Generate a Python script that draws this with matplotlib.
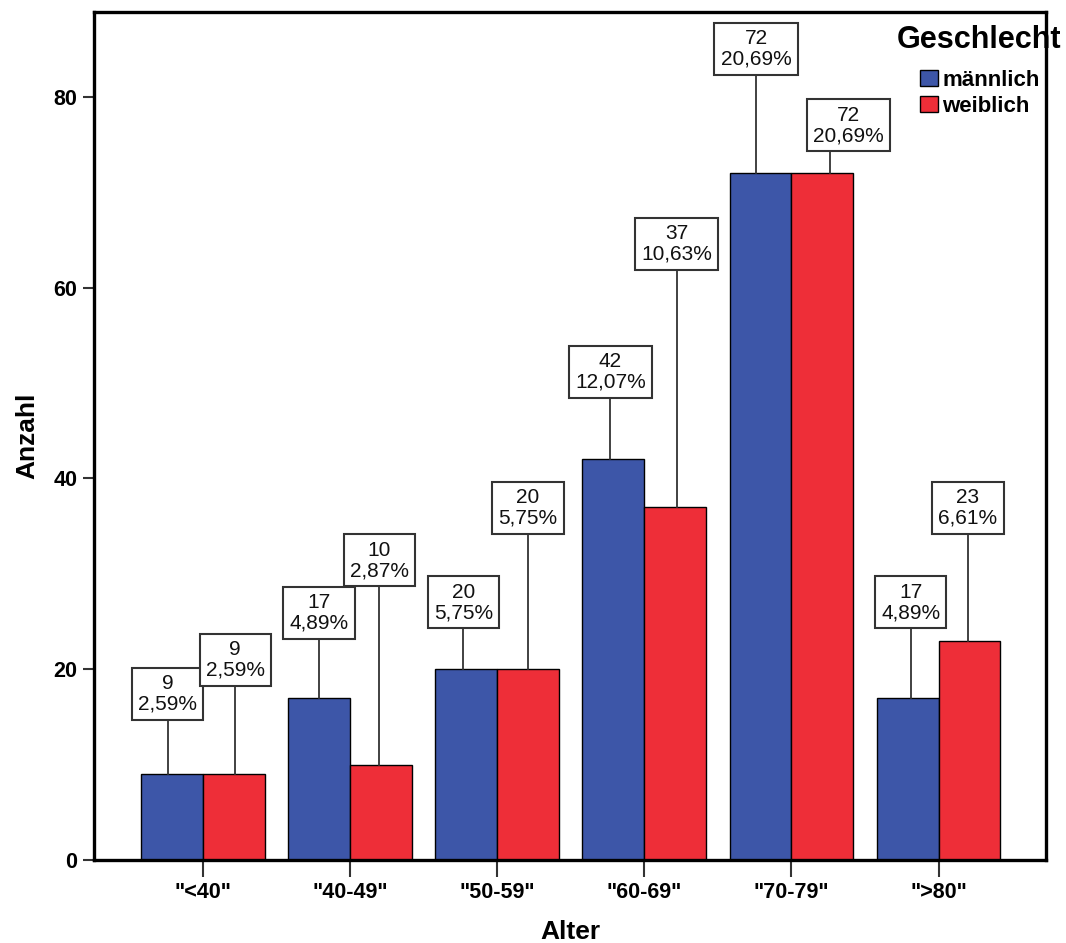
import matplotlib
matplotlib.use("Agg")
import matplotlib.pyplot as plt
import numpy as np

# Data
categories = ['"<40"', '"40-49"', '"50-59"', '"60-69"', '"70-79"', '">80"']
maennlich = [9, 17, 20, 42, 72, 17]
weiblich = [9, 10, 20, 37, 72, 23]
pct_maennlich = ["2,59%", "4,89%", "5,75%", "12,07%", "20,69%", "4,89%"]
pct_weiblich = ["2,59%", "2,87%", "5,75%", "10,63%", "20,69%", "6,61%"]

# Label box placement (box centre heights and small x shifts)
lab_y_m = [17.4, 25.9, 27.0, 51.2, 85.0, 27.0]
lab_y_w = [21.0, 31.4, 36.9, 64.6, 77.0, 36.9]
lab_dx_m = [-0.03, 0.0, -0.02, -0.02, -0.03, 0.02]
lab_dx_w = [0.01, -0.01, 0.0, 0.01, 0.18, -0.01]
line_dx_w = [0.01, -0.01, 0.0, 0.01, 0.05, -0.01]

BLUE = "#3d56a8"
RED = "#ee2e38"

plt.rcParams["font.family"] = ["Liberation Sans", "DejaVu Sans"]

fig = plt.figure(figsize=(10.66, 9.43), dpi=100)
ax = fig.add_axes([0.0882, 0.088, 0.8930, 0.8993])

x = np.arange(len(categories))
w = 0.42
ax.bar(x - w / 2, maennlich, w, color=BLUE, edgecolor="black", linewidth=1, label="männlich", zorder=2)
ax.bar(x + w / 2, weiblich, w, color=RED, edgecolor="black", linewidth=1, label="weiblich", zorder=2)

box = dict(boxstyle="square,pad=0.3", facecolor="white", edgecolor="#333333", linewidth=1.5)

def add_label(xc, val, pct, ly, dx, ldx):
    ax.plot([xc + ldx, xc + ldx], [val, ly], color="#333333", linewidth=1.3, zorder=3)
    ax.text(xc + dx, ly, "%d\n%s" % (val, pct), ha="center", va="center", fontsize=15,
            linespacing=1.1, bbox=box, zorder=4, color="#111111")

for i in range(len(categories)):
    add_label(x[i] - w / 2, maennlich[i], pct_maennlich[i], lab_y_m[i], lab_dx_m[i], lab_dx_m[i])
    add_label(x[i] + w / 2, weiblich[i], pct_weiblich[i], lab_y_w[i], lab_dx_w[i], line_dx_w[i])

ax.set_xlim(-0.74, 5.73)
ax.set_ylim(0, 88.9)
ax.set_xticks(x)
ax.set_xticklabels(categories, fontsize=15.5, fontweight="bold")
ax.set_yticks([0, 20, 40, 60, 80])
ax.set_yticklabels(["0", "20", "40", "60", "80"], fontsize=15.5, fontweight="bold")
ax.tick_params(axis="y", length=8, width=1.5, pad=4, color="#333333")
ax.tick_params(axis="x", length=12, width=1.5, pad=4, color="#333333")

for s in ax.spines.values():
    s.set_linewidth(2.4)
    s.set_color("black")
    s.set_zorder(5)

ax.set_xlabel("Alter", fontsize=19, fontweight="bold", labelpad=12)
ax.set_ylabel("Anzahl", fontsize=19, fontweight="bold", labelpad=10)

# legend: title drawn on its own so the gap to the entries matches
ax.text(0.9296, 0.967, "Geschlecht", transform=ax.transAxes, ha="center", va="center",
        fontsize=22, fontweight="bold", zorder=1)
leg = ax.legend(loc="upper left", bbox_to_anchor=(0.8676, 0.932),
                frameon=False, fontsize=16, handlelength=0.8, handleheight=0.75,
                handletextpad=0.2, labelspacing=0.22, borderpad=0, borderaxespad=0)
for t in leg.get_texts():
    t.set_fontweight("bold")
leg.set_zorder(1)

fig.savefig("out.png", dpi=100)
